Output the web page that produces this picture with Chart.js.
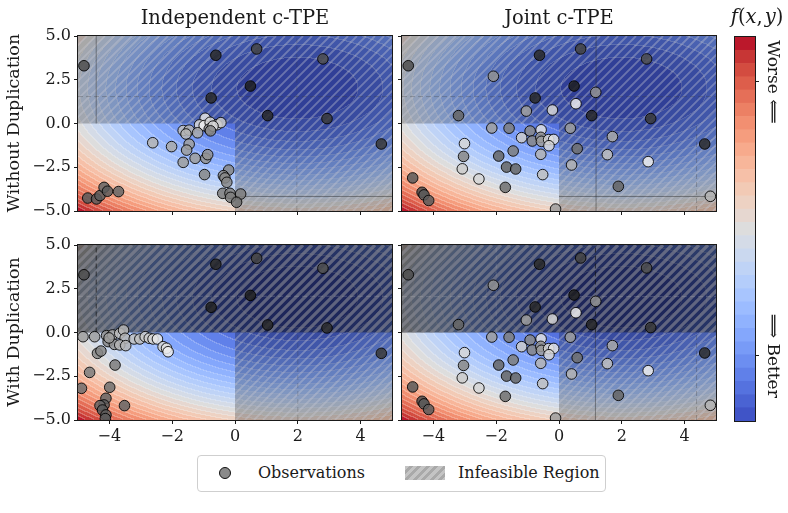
<!DOCTYPE html>
<html><head><meta charset="utf-8">
<script src="https://cdn.jsdelivr.net/npm/chart.js@4.4.1/dist/chart.umd.min.js"></script>
<style>
html,body{margin:0;padding:0;background:#fff;}
#wrap{position:relative;width:788px;height:513px;overflow:hidden;background:#fff;font-family:"DejaVu Serif",serif;color:#1a1a1a;}
canvas.layer{position:absolute;left:0;top:0;}
.lbl{position:absolute;white-space:nowrap;line-height:1;}
.lbl i{font-style:italic;}
</style></head><body>
<div id="wrap">
  <canvas id="cTL" class="layer" width="788" height="513"></canvas>
  <canvas id="cTR" class="layer" width="788" height="513"></canvas>
  <canvas id="cBL" class="layer" width="788" height="513"></canvas>
  <canvas id="cBR" class="layer" width="788" height="513"></canvas>
  <canvas id="cBar" class="layer" width="788" height="513"></canvas>
  <div class="lbl" id="t0" style="font-size:19.5px;left:235px;top:8px;transform:translateX(-50%);">Independent c-TPE</div>
  <div class="lbl" id="t1" style="font-size:19.5px;left:559px;top:8px;transform:translateX(-50%);">Joint c-TPE</div>
  <div class="lbl" id="r0" style="font-size:17.5px;left:14px;top:123px;transform:translate(-50%,-50%) rotate(-90deg);">Without Duplication</div>
  <div class="lbl" id="r1" style="font-size:17.5px;left:14px;top:332px;transform:translate(-50%,-50%) rotate(-90deg);">With Duplication</div>
  <div class="lbl" style="font-size:19.5px;left:757px;top:7px;transform:translateX(-50%);"><i>f</i>(<i>x</i>,&#8202;<i>y</i>)</div>
  <div style="position:absolute;left:197px;top:455px;width:407px;height:35px;border:1px solid #cfcfcf;border-radius:4px;background:#fff;"></div>
  <div style="position:absolute;left:219px;top:467px;width:10px;height:10px;border-radius:50%;background:#8a8a8a;border:1px solid #111;"></div>
  <div class="lbl" style="font-size:16px;left:258px;top:465px;">Observations</div>
  <div style="position:absolute;left:405px;top:466px;width:40px;height:14px;background:repeating-linear-gradient(135deg,#c4c4c4 0 3px,#a9a9a9 3px 6px);"></div>
  <div class="lbl" style="font-size:16px;left:458px;top:465px;">Infeasible Region</div>
</div>
<script>
// ================= DATA =================
const xTicks = [-4, -2, 0, 2, 4];
const yTicks = [-5, -2.5, 0, 2.5, 5];
const xRange = [-5, 5];
const yRange = [-5, 5];

// Independent c-TPE, without duplication
const indepNoDupX = [-4.81,-0.61,0.69,2.80,0.49,-0.76,1.04,2.93,4.66,
  -0.95,-1.13,-0.98,-0.79,-0.82,-0.57,-0.45,-0.70,-0.78,
  -1.65,-1.46,-1.56,-1.19,-2.62,-2.02,-1.46,-1.54,
  -1.27,-0.93,-0.87,-1.65,-0.97,-0.20,-0.37,-0.32,-0.26,-0.39,-0.16,-0.14,0.18,0.05,
  -4.69,-4.41,-4.30,-4.17,-4.06,-3.71];
const indepNoDupY = [3.30,3.90,4.26,3.69,2.14,1.46,0.45,0.28,-1.17,
  0.30,-0.08,-0.12,0.07,-0.32,-0.07,0.05,-0.15,-0.42,
  -0.40,-0.38,-0.60,-0.53,-1.10,-1.32,-1.18,-1.52,
  -1.99,-1.99,-1.78,-2.22,-2.92,-2.66,-2.98,-3.11,-3.36,-3.99,-3.99,-4.22,-4.03,-4.50,
  -4.26,-4.31,-4.12,-3.65,-3.87,-3.89];
const indepNoDupShade = [.25,.08,.2,.25,.04,.08,.08,.15,.15,
  .9,.85,.95,.85,.55,.92,.8,.85,.5,
  .75,.7,.7,.65,.7,.65,.6,.6,
  .6,.55,.55,.6,.5,.5,.5,.5,.5,.45,.45,.45,.45,.4,
  .3,.3,.3,.35,.3,.35];

// Independent c-TPE, with duplication
const indepDupX = [-4.81,-0.61,0.69,2.80,0.49,-0.76,1.04,2.93,4.66,
  -4.84,-4.47,-4.09,-4.04,-3.90,-3.84,-3.67,-3.55,-3.50,-3.67,-3.48,-3.21,-3.03,-2.86,-2.73,-2.61,-2.47,-2.29,-2.18,-2.13,-4.01,
  -4.38,-4.27,-3.82,-4.63,-4.89,-3.99,-4.11,-4.17,-4.30,-4.22,-4.11,-4.13,-3.52];
const indepDupY = [3.30,3.90,4.24,3.67,2.12,1.44,0.43,0.26,-1.19,
  -0.24,-0.24,-0.18,-0.52,-0.14,-0.68,-0.05,0.14,-0.33,-0.71,-0.75,-0.37,-0.37,-0.24,-0.33,-0.37,-0.37,-0.81,-0.90,-1.10,-0.31,
  -1.19,-1.06,-1.86,-2.28,-3.19,-3.13,-3.76,-4.14,-4.18,-4.43,-4.71,-4.92,-4.18];
const indepDupShade = [.25,.08,.2,.25,.04,.05,.08,.1,.15,
  .6,.6,.55,.5,.65,.55,.75,.7,.7,.7,.7,.75,.75,.8,.8,.85,.92,.85,.9,.95,.6,
  .5,.5,.45,.45,.4,.4,.35,.3,.35,.3,.3,.3,.35];

// Joint c-TPE (same observations with and without duplication)
const jointX = [-4.80,-0.62,0.69,2.79,-2.09,0.48,1.17,-0.76,0.54,-0.21,-1.04,-3.20,1.04,2.92,
  -2.14,-1.59,-0.92,-0.57,0.36,-1.19,-0.85,-0.58,-0.56,-0.33,-0.17,-0.32,1.70,
  -3.01,-1.46,0.58,-3.04,-1.92,-0.58,1.54,-1.67,-1.38,-3.08,0.40,2.84,4.64,
  -0.52,-2.55,-1.71,1.89,-4.66,-4.36,-4.30,-4.15,-0.11,4.82];
const jointY = [3.30,3.90,4.26,3.69,2.70,2.14,1.78,1.46,1.13,0.77,0.71,0.45,0.45,0.28,
  -0.26,-0.27,-0.43,-0.36,-0.27,-0.81,-1.00,-0.79,-1.02,-0.92,-0.91,-1.27,-0.75,
  -1.15,-1.57,-1.44,-1.88,-1.86,-1.76,-1.78,-2.49,-2.60,-2.59,-2.37,-2.18,-1.17,
  -2.92,-3.17,-3.65,-3.59,-3.11,-3.93,-4.08,-4.40,-4.89,-4.16];
const jointShade = [.25,.08,.2,.25,.55,.04,.55,.08,.95,.85,.6,.35,.08,.15,
  .6,.45,.5,.9,.6,.8,.5,.55,.6,.85,.9,.85,.65,
  .85,.45,.4,.5,.35,.7,.75,.35,.35,.8,.7,.95,.1,
  .75,.85,.4,.35,.3,.25,.3,.3,.6,.7];

// objective f(x,y) (optimum at (2,2)); feasible region x<=0, y<=0
const optimum = [2, 2];
const yWeight = 1.2;
const xLimit = 0, yLimit = 0;
const nLevels = 29;      // filled contour levels (panels and colour bar)
const cbarTickFractions = [0.17, 0.883];
const cbarTickLabels = ['\u27F9 Better', 'Worse \u27F8'];

// guide lines in data coords
const guidesTL = [{x:-4.42,from:0,to:5,dash:false,c:'rgba(40,40,40,0.45)'},{y:1.54,from:-5,to:5,dash:true,c:'rgba(60,60,60,0.3)'},{y:-4.17,from:0,to:5,dash:false,c:'rgba(40,40,40,0.45)'},{x:1.97,from:-5,to:5,dash:true,c:'rgba(60,60,60,0.25)'}];
const guidesTR = [{x:1.18,from:-5,to:5,dash:false,c:'rgba(40,40,40,0.45)'},{y:1.54,from:-5,to:5,dash:true,c:'rgba(60,60,60,0.3)'},{y:-4.17,from:0,to:5,dash:false,c:'rgba(40,40,40,0.45)'},{x:4.38,from:-5,to:0,dash:true,c:'rgba(60,60,60,0.3)'}];
const guidesBL = [{x:-4.42,from:0,to:5,dash:true,c:'rgba(20,20,20,0.7)'},{y:2.07,from:-5,to:5,dash:true,c:'rgba(200,200,200,0.25)'},{x:2,from:-5,to:0,dash:true,c:'rgba(60,60,60,0.25)'}];
const guidesBR = [{x:1.16,from:0,to:5,dash:true,c:'rgba(20,20,20,0.7)'},{x:1.16,from:-5,to:0,dash:false,c:'rgba(40,40,40,0.45)'},{y:2.05,from:-5,to:5,dash:true,c:'rgba(200,200,200,0.25)'},{x:-2.0,from:0,to:5,dash:true,c:'rgba(200,200,200,0.2)'},{x:4.38,from:-5,to:0,dash:true,c:'rgba(60,60,60,0.3)'}];

// ================= HELPERS =================
function objective(x, y) {
  return (x - optimum[0]) ** 2 + yWeight * (y - optimum[1]) ** 2;
}
const fMax = objective(xRange[0], yRange[0]);

const CW = [[59,76,192],[68,90,204],[77,104,215],[87,117,225],[98,130,234],[108,142,241],[119,154,247],[130,165,251],[141,176,254],[152,185,255],[163,194,255],[174,201,253],[184,208,249],[194,213,244],[204,217,238],[213,219,230],[221,221,221],[229,216,209],[236,211,197],[241,204,185],[245,196,173],[247,187,160],[247,177,148],[247,166,135],[244,154,123],[241,141,111],[236,127,99],[229,112,88],[222,96,77],[213,80,66],[203,62,56],[192,40,47],[180,4,38]];
function coolwarm(t) {
  t = Math.max(0, Math.min(1, t)) * (CW.length - 1);
  const i = Math.min(CW.length - 2, Math.floor(t)), f = t - i;
  return [0,1,2].map(k => CW[i][k] + (CW[i+1][k] - CW[i][k]) * f);
}
const css = c => `rgb(${c.map(Math.round).join(',')})`;
const shadeColor = s => { const g = Math.round(22 + s * 226); return `rgba(${g},${g},${g},0.85)`; };
const fmt = v => (v < 0 ? '\u2212' : '') + Math.abs(v);
const fmt1 = v => (v < 0 ? '\u2212' : '') + Math.abs(v).toFixed(1);
const FONT = '"DejaVu Serif", serif';
const INK = '#1a1a1a';

function makeFieldPlugin(cfg) {
  return {
    id: 'field',
    beforeDatasetsDraw(chart) {
      const { ctx, chartArea: a, scales: { x: xs, y: ys } } = chart;
      const L = Math.round(a.left), T = Math.round(a.top);
      const W = Math.round(a.right) - L, H = Math.round(a.bottom) - T;
      const step = fMax / nLevels;
      const xv = new Float64Array(W), yv = new Float64Array(H);
      for (let i = 0; i < W; i++) xv[i] = xs.getValueForPixel(L + i + 0.5);
      for (let j = 0; j < H; j++) yv[j] = ys.getValueForPixel(T + j + 0.5);
      const lev = new Int16Array(W * H);
      for (let j = 0; j < H; j++) for (let i = 0; i < W; i++)
        lev[j * W + i] = Math.min(nLevels - 1, Math.floor(objective(xv[i], yv[j]) / step));
      const pal = []; for (let k = 0; k < nLevels; k++) pal.push(coolwarm((k + 0.5) / nLevels));
      const img = ctx.createImageData(W, H);
      for (let j = 0; j < H; j++) for (let i = 0; i < W; i++) {
        const idx = j * W + i, k = lev[idx];
        const edge = (i + 1 < W && lev[idx + 1] !== k) || (j + 1 < H && lev[idx + W] !== k);
        const c = pal[k], m = edge ? 0.22 : 0;
        img.data[idx*4] = c[0] + (255 - c[0]) * m;
        img.data[idx*4+1] = c[1] + (255 - c[1]) * m;
        img.data[idx*4+2] = c[2] + (255 - c[2]) * m;
        img.data[idx*4+3] = 255;
      }
      ctx.putImageData(img, L, T);
      ctx.save();
      ctx.beginPath(); ctx.rect(L, T, W, H); ctx.clip();
      for (const ov of cfg.overlays) {
        ctx.save();
        ctx.beginPath();
        for (const r of ov.rects) {
          const p0 = xs.getPixelForValue(r[0]), p1 = xs.getPixelForValue(r[1]);
          const q0 = ys.getPixelForValue(r[2]), q1 = ys.getPixelForValue(r[3]);
          ctx.rect(Math.min(p0, p1), Math.min(q0, q1), Math.abs(p1 - p0), Math.abs(q1 - q0));
        }
        ctx.clip();
        ctx.fillStyle = ov.fill; ctx.fillRect(L, T, W, H);
        ctx.strokeStyle = ov.hatch; ctx.lineWidth = ov.lw;
        ctx.beginPath();
        for (let s = L - H; s < L + W + 2; s += ov.gap) { ctx.moveTo(s, T + H); ctx.lineTo(s + H, T); }
        ctx.stroke();
        ctx.restore();
      }
      ctx.lineWidth = 1;
      for (const g of cfg.guides) {
        ctx.strokeStyle = g.c; ctx.setLineDash(g.dash ? [5, 3] : []);
        ctx.beginPath();
        if (g.x !== undefined) { const px = xs.getPixelForValue(g.x); ctx.moveTo(px, ys.getPixelForValue(g.from)); ctx.lineTo(px, ys.getPixelForValue(g.to)); }
        else { const py = ys.getPixelForValue(g.y); ctx.moveTo(xs.getPixelForValue(g.from), py); ctx.lineTo(xs.getPixelForValue(g.to), py); }
        ctx.stroke();
      }
      ctx.restore();
    },
    afterDatasetsDraw(chart) {
      const { ctx, chartArea: a } = chart;
      ctx.save(); ctx.strokeStyle = INK; ctx.lineWidth = 1; ctx.setLineDash([]);
      ctx.strokeRect(Math.round(a.left) - 0.5, Math.round(a.top) - 0.5, Math.round(a.right) - Math.round(a.left) + 1, Math.round(a.bottom) - Math.round(a.top) + 1);
      ctx.restore();
    }
  };
}

const lightOv = { fill: 'rgba(0,0,0,0.24)', hatch: 'rgba(200,200,210,0.38)', lw: 1.8, gap: 9 };
const darkOv = { fill: 'rgba(0,0,0,0.55)', hatch: 'rgba(140,140,150,0.6)', lw: 3.2, gap: 9 };
const unionRects = [[xLimit, xRange[1], yRange[0], yRange[1]], [xRange[0], xLimit, yLimit, yRange[1]]];
const topOverlays = [Object.assign({ rects: unionRects }, lightOv)];
const botOverlays = [
  Object.assign({ rects: [[xLimit, xRange[1], yRange[0], yLimit]] }, lightOv),
  Object.assign({ rects: [[xRange[0], xRange[1], yLimit, yRange[1]]] }, darkOv)
];

function makePanel(cfg) {
  const yW = cfg.yLabels ? 60 : 6;
  const xH = cfg.xLabels ? 30 : 6;
  const a = cfg.area;
  const tickFont = { family: FONT, size: 16 };
  new Chart(document.getElementById(cfg.id), {
    type: 'scatter',
    data: { datasets: [{
      data: cfg.xs.map((x, i) => ({ x, y: cfg.ys[i] })),
      backgroundColor: cfg.shade.map(shadeColor),
      borderColor: 'rgba(0,0,0,0.85)', borderWidth: 1,
      pointRadius: 5.3, pointHoverRadius: 5.3, clip: 0
    }] },
    options: {
      responsive: false, animation: false, events: [],
      layout: { padding: { left: a.l - yW, top: a.t, right: 788 - a.r, bottom: 513 - a.b - xH } },
      plugins: { legend: { display: false }, tooltip: { enabled: false } },
      scales: {
        x: {
          type: 'linear', min: xRange[0], max: xRange[1],
          afterFit: s => { s.height = xH; },
          afterBuildTicks: s => { s.ticks = xTicks.map(v => ({ value: v })); },
          ticks: { callback: v => cfg.xLabels ? fmt(v) : '', font: tickFont, color: INK, padding: 3, maxRotation: 0, autoSkip: false },
          grid: { drawOnChartArea: false, drawTicks: true, tickLength: 4, color: INK },
          border: { display: true, color: INK }
        },
        y: {
          type: 'linear', min: yRange[0], max: yRange[1],
          afterFit: s => { s.width = yW; },
          afterBuildTicks: s => { s.ticks = yTicks.map(v => ({ value: v })); },
          ticks: { callback: v => cfg.yLabels ? fmt1(v) : '', font: tickFont, color: INK, padding: 3, autoSkip: false },
          grid: { drawOnChartArea: false, drawTicks: true, tickLength: 4, color: INK },
          border: { display: true, color: INK }
        }
      }
    },
    plugins: [makeFieldPlugin(cfg)]
  });
}

makePanel({ id: 'cTL', area: { l: 78, t: 36, r: 392, b: 211 }, xs: indepNoDupX, ys: indepNoDupY, shade: indepNoDupShade, yLabels: true, xLabels: false, overlays: topOverlays, guides: guidesTL });
makePanel({ id: 'cTR', area: { l: 402, t: 36, r: 716, b: 211 }, xs: jointX, ys: jointY, shade: jointShade, yLabels: false, xLabels: false, overlays: topOverlays, guides: guidesTR });
makePanel({ id: 'cBL', area: { l: 78, t: 245, r: 392, b: 420 }, xs: indepDupX, ys: indepDupY, shade: indepDupShade, yLabels: true, xLabels: true, overlays: botOverlays, guides: guidesBL });
makePanel({ id: 'cBR', area: { l: 402, t: 245, r: 716, b: 420 }, xs: jointX, ys: jointY, shade: jointShade, yLabels: false, xLabels: true, overlays: botOverlays, guides: guidesBR });

// ---------- colour bar ----------
const cbarTickValues = cbarTickFractions.map(f => f * fMax);
const cbarPlugin = {
  id: 'cbarLabels',
  afterDraw(chart) {
    const { ctx, chartArea: a, scales: { y } } = chart;
    ctx.save();
    ctx.strokeStyle = INK; ctx.lineWidth = 1;
    ctx.strokeRect(Math.round(a.left) - 0.5, Math.round(a.top) - 0.5, Math.round(a.right) - Math.round(a.left) + 1, Math.round(a.bottom) - Math.round(a.top) + 1);
    ctx.fillStyle = INK; ctx.font = `17px ${FONT}`;
    ctx.textAlign = 'center'; ctx.textBaseline = 'middle';
    cbarTickValues.forEach((v, i) => {
      const py = y.getPixelForValue(v);
      ctx.save(); ctx.translate(a.right + 17, py); ctx.rotate(Math.PI / 2);
      ctx.fillText(cbarTickLabels[i], 0, 0); ctx.restore();
    });
    ctx.restore();
  }
};
const barBand = fMax / nLevels;
new Chart(document.getElementById('cBar'), {
  type: 'bar',
  data: {
    labels: [''],
    datasets: Array.from({ length: nLevels }, (_, i) => ({
      data: [barBand], backgroundColor: css(coolwarm((i + 0.5) / nLevels)),
      borderWidth: 0, barPercentage: 1, categoryPercentage: 1, stack: 's'
    }))
  },
  options: {
    responsive: false, animation: false, events: [],
    layout: { padding: { left: 735, top: 37, right: 788 - 755 - 8, bottom: 513 - 421 } },
    plugins: { legend: { display: false }, tooltip: { enabled: false } },
    scales: {
      x: { display: false, stacked: true },
      y: {
        position: 'right', stacked: true, min: 0, max: fMax,
        afterFit: s => { s.width = 8; },
        afterBuildTicks: s => { s.ticks = cbarTickValues.map(v => ({ value: v })); },
        ticks: { callback: () => '', padding: 0 },
        grid: { drawOnChartArea: false, drawTicks: true, tickLength: 4, color: INK },
        border: { display: true, color: INK }
      }
    }
  },
  plugins: [cbarPlugin]
});
</script>
</body></html>
